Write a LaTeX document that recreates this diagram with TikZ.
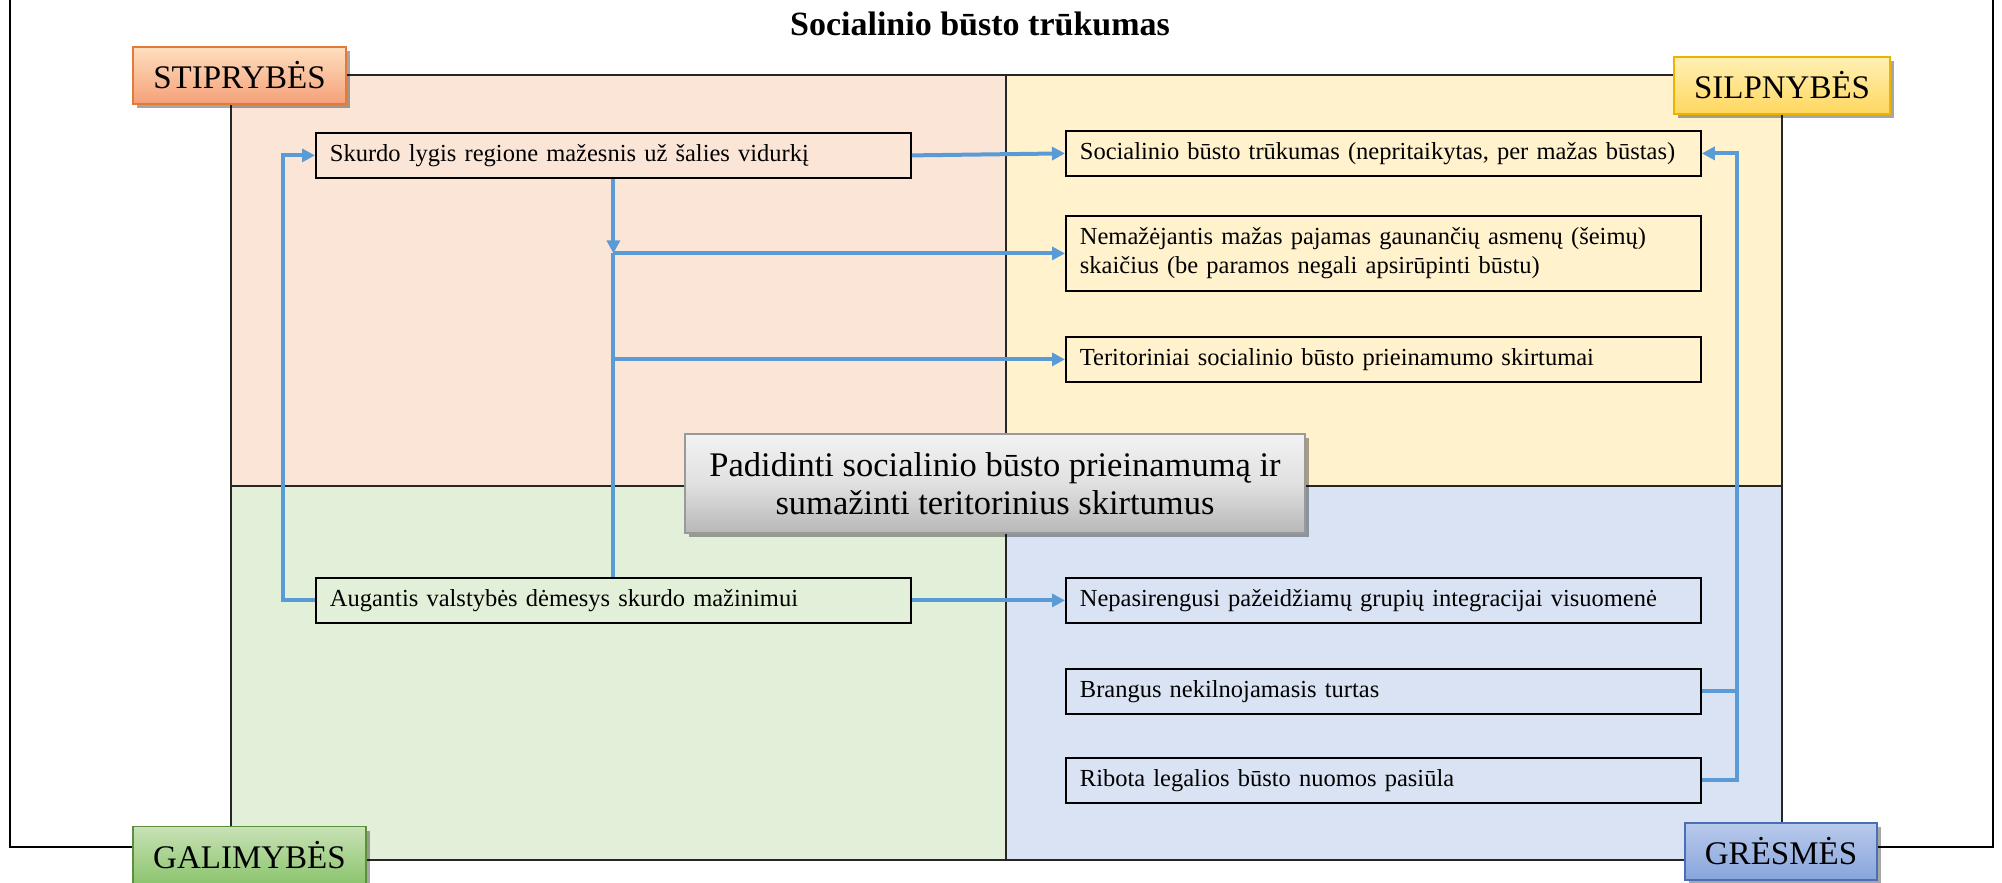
\documentclass[tikz,border=0pt]{standalone}
\usepackage{fontspec}
\setmainfont{Liberation Serif}
\usetikzlibrary{arrows.meta,shadows}
\definecolor{qTL}{HTML}{FBE5D6}
\definecolor{qTR}{HTML}{FFF2CC}
\definecolor{qBL}{HTML}{E2F0D9}
\definecolor{qBR}{HTML}{DAE3F3}
\definecolor{conncol}{HTML}{5B9BD5}
\begin{document}
\begin{tikzpicture}[x=1pt,y=-1pt,
  conn/.style={draw=conncol, line width=4pt},
  tip/.style={-{Triangle[length=13pt,width=13pt]}},
  quadline/.style={draw=black!85, line width=2pt},
  boxbase/.style={draw=black, line width=1.8pt, rectangle, anchor=north west,
    minimum height=45pt, inner xsep=14pt, inner ysep=0pt, align=left,
    font=\fontsize{24.5}{29}\selectfont},
  lbox/.style={boxbase, text width=567pt},
  rbox/.style={boxbase, text width=607pt},
  tag/.style={rectangle, inner xsep=0pt, inner ysep=0pt, minimum height=57pt,
    line width=1.8pt, font=\fontsize{33}{38}\selectfont,
    drop shadow={shadow xshift=4pt, shadow yshift=-4pt, opacity=0.35, fill=black}},
]
\useasboundingbox (0,0) rectangle (2002,883);
\clip (0,0) rectangle (2002,883);
% outer frame
\draw[line width=2.5pt] (10,-10) -- (10,847) -- (1993,847) -- (1993,-10);
% quadrants
\fill[qTL] (231,75) rectangle (1006,486);
\fill[qTR] (1006,75) rectangle (1782,486);
\fill[qBL] (231,486) rectangle (1006,860);
\fill[qBR] (1006,486) rectangle (1782,860);
\draw[quadline] (231,75) rectangle (1782,860);
\draw[quadline] (1006,75) -- (1006,860);
\draw[quadline] (231,486) -- (1782,486);
% title
\node[font=\bfseries\fontsize{34}{40}\selectfont] (title) at (980,24) {Socialinio būsto trūkumas};
% boxes
\node[lbox] (sk) at (315,132) {Skurdo lygis regione mažesnis už šalies vidurkį};
\node[lbox] (au) at (315,577) {Augantis valstybės dėmesys skurdo mažinimui};
\node[rbox] (so) at (1065,130) {Socialinio būsto trūkumas (nepritaikytas, per mažas būstas)};
\node[rbox, minimum height=75pt] (ne) at (1065,215) {Nemažėjantis mažas pajamas gaunančių asmenų (šeimų)\\skaičius (be paramos negali apsirūpinti būstu)};
\node[rbox] (te) at (1065,336) {Teritoriniai socialinio būsto prieinamumo skirtumai};
\node[rbox] (np) at (1065,577) {Nepasirengusi pažeidžiamų grupių integracijai visuomenė};
\node[rbox] (br) at (1065,668) {Brangus nekilnojamasis turtas};
\node[rbox] (ri) at (1065,757) {Ribota legalios būsto nuomos pasiūla};
% connectors
\coordinate (j1) at (sk.south |- ne.west);
\coordinate (j2) at (sk.south |- te.west);
\draw[conn,tip] (sk.east) -- (so.west);
\draw[conn] (j1) -- (au.north);
\draw[conn,tip] (sk.south) -- (j1);
\draw[conn,tip] (j1) -- (ne.west);
\draw[conn,tip] (j2) -- (te.west);
\draw[conn,tip] (au.west) -- ++(-32,0) |- (sk.west);
\draw[conn,tip] (au.east) -- (np.west);
\path (ri.east) ++(35,0) coordinate (rbus);
\draw[conn] (br.east) -- (br.east -| rbus);
\draw[conn,tip] (ri.east) -- (rbus) |- (so.east);
% centre box
\node[tag, minimum width=620pt, minimum height=99pt, align=center,
  top color=white!95!black, bottom color=black!28, middle color=black!12,
  draw=black!40, font=\fontsize{34.5}{38}\selectfont] (goal) at (995,483.5)
  {Padidinti socialinio būsto prieinamumą ir\\sumažinti teritorinius skirtumus};
% corner labels
\node[tag, minimum width=213pt, top color=orange!25!white, bottom color={rgb,255:red,244;green,160;blue,120}, draw={rgb,255:red,224;green,123;blue,57}] (s) at (239.5,75.5) {STIPRYBĖS};
\node[tag, minimum width=216pt, top color={rgb,255:red,255;green,240;blue,180}, bottom color={rgb,255:red,255;green,215;blue,95}, draw={rgb,255:red,235;green,180;blue,0}] (w) at (1782,85.5) {SILPNYBĖS};
\node[tag, minimum width=233pt, top color={rgb,255:red,200;green,226;blue,182}, bottom color={rgb,255:red,140;green,196;blue,110}, draw={rgb,255:red,94;green,143;blue,63}] (o) at (249.5,855) {GALIMYBĖS};
\node[tag, minimum width=192pt, top color={rgb,255:red,185;green,202;blue,235}, bottom color={rgb,255:red,135;green,165;blue,220}, draw={rgb,255:red,74;green,111;blue,181}] (t) at (1781,851.5) {GRĖSMĖS};
\end{tikzpicture}
\end{document}
